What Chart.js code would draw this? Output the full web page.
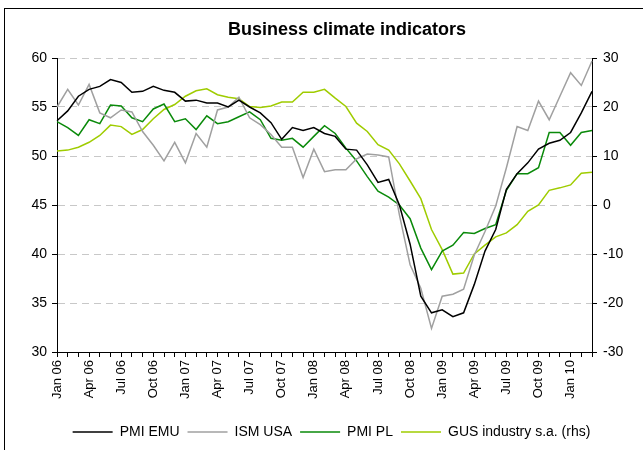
<!DOCTYPE html>
<html>
<head>
<meta charset="utf-8">
<title>Business climate indicators</title>
<script src="https://cdn.jsdelivr.net/npm/chart.js@4"></script>
<style>
    body { margin: 0; background: #fff; }
    .wrap { position: relative; width: 643px; height: 450px; }
    .frame { position: absolute; left: 4px; top: 8px; right: 0; bottom: 0; border-left: 1px solid #000; border-top: 1px solid #000; pointer-events: none; }
</style>
</head>
<body>

<div class="wrap">
    <canvas id="chart" width="643" height="450"></canvas>
    <div class="frame"></div>
</div>

<script>

    const chartTitle = 'Business climate indicators'

    const months = [
        'Jan 06', 'Feb 06', 'Mar 06', 'Apr 06', 'May 06', 'Jun 06', 'Jul 06', 'Aug 06', 'Sep 06', 'Oct 06', 'Nov 06', 'Dec 06',
        'Jan 07', 'Feb 07', 'Mar 07', 'Apr 07', 'May 07', 'Jun 07', 'Jul 07', 'Aug 07', 'Sep 07', 'Oct 07', 'Nov 07', 'Dec 07',
        'Jan 08', 'Feb 08', 'Mar 08', 'Apr 08', 'May 08', 'Jun 08', 'Jul 08', 'Aug 08', 'Sep 08', 'Oct 08', 'Nov 08', 'Dec 08',
        'Jan 09', 'Feb 09', 'Mar 09', 'Apr 09', 'May 09', 'Jun 09', 'Jul 09', 'Aug 09', 'Sep 09', 'Oct 09', 'Nov 09', 'Dec 09',
        'Jan 10', 'Feb 10', 'Mar 10'
    ]

    const pmiEmu = [53.6, 54.6, 56.1, 56.8, 57.1, 57.8, 57.5, 56.5, 56.6, 57.1, 56.7, 56.5, 55.6, 55.7, 55.4, 55.4, 55.0,
        55.7, 55.0, 54.4, 53.4, 51.7, 52.9, 52.6, 52.9, 52.3, 52.0, 50.7, 50.6, 49.1, 47.3, 47.6, 45.0, 41.0,
        35.7, 34.0, 34.3, 33.6, 34.0, 36.9, 40.3, 42.5, 46.6, 48.2, 49.3, 50.7, 51.3, 51.6, 52.4, 54.4, 56.6]

    const ismUsa = [55.0, 56.8, 55.2, 57.3, 54.4, 53.9, 54.7, 54.5, 52.5, 51.1, 49.5, 51.4, 49.3, 52.3, 50.9, 54.7, 55.0,
        56.0, 53.9, 53.2, 52.2, 50.9, 50.9, 47.8, 50.7, 48.4, 48.6, 48.6, 49.7, 50.2, 50.1, 49.9, 44.0, 38.9,
        36.5, 32.4, 35.7, 35.9, 36.4, 39.9, 42.3, 44.9, 48.8, 53.0, 52.6, 55.6, 53.7, 56.1, 58.5, 57.2, 59.7]

    const pmiPl = [53.5, 52.9, 52.1, 53.7, 53.3, 55.2, 55.1, 53.9, 53.5, 54.8, 55.3, 53.5, 53.8, 52.7, 54.1, 53.3, 53.5,
        54.0, 54.5, 53.7, 51.8, 51.6, 51.8, 50.9, 52.0, 53.1, 52.3, 50.8, 49.5, 47.9, 46.4, 45.8, 45.0, 43.6,
        40.6, 38.4, 40.3, 40.9, 42.2, 42.1, 42.6, 43.0, 46.5, 48.2, 48.2, 48.8, 52.4, 52.4, 51.1, 52.4, 52.6]

    // right hand scale
    const gusIndustry = [11.0, 11.2, 11.8, 12.8, 14.2, 16.3, 16.0, 14.4, 15.4, 17.6, 19.5, 20.5, 22.2, 23.3, 23.7, 22.5, 22.0,
        21.7, 20.1, 19.9, 20.2, 21.0, 21.0, 23.0, 23.0, 23.6, 21.8, 20.1, 16.7, 15.0, 12.3, 11.2, 8.4, 4.9,
        1.3, -5.0, -9.1, -14.1, -13.9, -10.0, -8.2, -6.5, -5.7, -4.0, -1.3, 0.0, 3.0, 3.5, 4.1, 6.5, 6.7]

    Chart.defaults.font.family = '"Liberation Sans", Arial, sans-serif'
    Chart.defaults.color = '#000'

    // title drawn by hand, it sits right of the plot centre in the original
    const titlePlugin = {
        id: 'titleText',
        afterDraw(chart) {
            const c = chart.ctx
            c.save()
            c.font = 'bold 18px "Liberation Sans", Arial, sans-serif'
            c.fillStyle = '#000'
            c.textAlign = 'center'
            c.textBaseline = 'middle'
            c.fillText(chartTitle, 347, 30)
            c.restore()
        }
    }

    const line = (label, data, color, axis) => ({
        label: label,
        data: data,
        borderColor: color,
        backgroundColor: color,
        borderWidth: 1.5,
        pointRadius: 0,
        tension: 0,
        yAxisID: axis
    })

    const ctx = document.getElementById('chart')

    new Chart(ctx, {
        type: 'line',
        data: {
            labels: months,
            datasets: [
                line('PMI EMU', pmiEmu, '#000000', 'y'),
                line('ISM USA', ismUsa, '#a0a0a0', 'y'),
                line('PMI PL', pmiPl, '#0a8a0a', 'y'),
                line('GUS industry s.a. (rhs)', gusIndustry, '#9fcc00', 'y2')
            ]
        },
        options: {
            responsive: false,
            animation: false,
            layout: { padding: { left: 20, right: 0, top: 58, bottom: 1 } },
            plugins: {
                title: { display: false },
                tooltip: { enabled: false },
                legend: {
                    position: 'bottom',
                    labels: {
                        usePointStyle: true,
                        pointStyle: 'line',
                        pointStyleWidth: 40,
                        padding: 8,
                        color: '#000',
                        font: { size: 14 }
                    }
                }
            },
            scales: {
                x: {
                    offset: false,
                    afterFit: (scale) => { scale.height = 65 },
                    grid: { drawOnChartArea: false, drawTicks: true, tickLength: 5, tickColor: '#000' },
                    border: { color: '#000', width: 1 },
                    ticks: {
                        autoSkip: false,
                        minRotation: 90,
                        maxRotation: 90,
                        padding: 3,
                        font: { size: 13 },
                        callback: (value, i) => i % 3 === 0 ? months[i] : ''
                    }
                },
                y: {
                    position: 'left',
                    min: 30,
                    max: 60,
                    afterFit: (scale) => { scale.width = 37 },
                    grid: { color: '#c8c8c8', tickColor: '#000', tickLength: 5, tickBorderDash: [] },
                    border: { color: '#000', width: 1, dash: [7, 5] },
                    ticks: { stepSize: 5, padding: 5, font: { size: 14 } }
                },
                y2: {
                    position: 'right',
                    min: -30,
                    max: 30,
                    afterFit: (scale) => { scale.width = 51 },
                    grid: { drawOnChartArea: false, tickColor: '#000', tickLength: 5 },
                    border: { color: '#000', width: 1 },
                    ticks: { stepSize: 10, padding: 6, font: { size: 14 } }
                }
            }
        },
        plugins: [titlePlugin]
    })

</script>
</body>
</html>
